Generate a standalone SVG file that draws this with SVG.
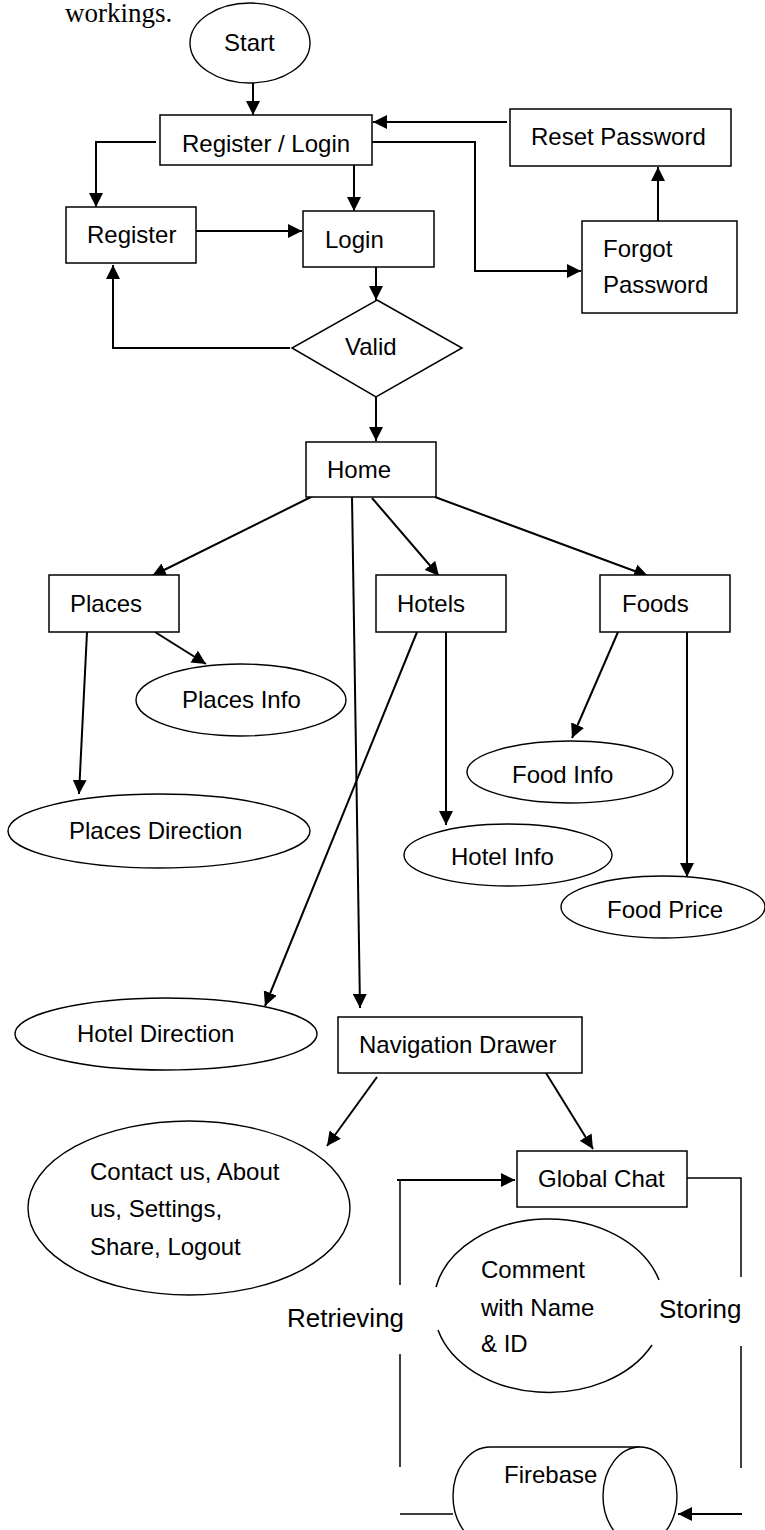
<svg xmlns="http://www.w3.org/2000/svg" width="765" height="1530" viewBox="0 0 765 1530">
<style>
.t{font-family:"Liberation Sans",Arial,sans-serif;font-size:24px;fill:#000}
.big{font-size:26px}
.serif{font-family:"Liberation Serif","Times New Roman",serif;font-size:27px;fill:#000}
.box{fill:#fff;stroke:#000;stroke-width:1.5}
.ell{fill:#fff;stroke:#000;stroke-width:1.4}
.c{fill:none;stroke:#000;stroke-width:2}
.thin{fill:none;stroke:#000;stroke-width:1.5}
</style>
<defs>
<marker id="ah" markerUnits="userSpaceOnUse" markerWidth="14" markerHeight="14" viewBox="0 0 10 10" refX="10" refY="5" orient="auto">
<path d="M0,0 L10,5 L0,10 z" fill="#000"/>
</marker>
</defs>
<rect width="765" height="1530" fill="#fff"/>
<text class="serif" x="65" y="22">workings.</text>
<g id="connectors">
<path class="c" d="M253 83 V115" marker-end="url(#ah)"/>
<path class="c" d="M156 142 H96 V207" marker-end="url(#ah)"/>
<path class="c" d="M354 165 V211" marker-end="url(#ah)"/>
<path class="c" d="M193 231 H302" marker-end="url(#ah)"/>
<path class="c" d="M376 263 V300" marker-end="url(#ah)"/>
<path class="c" d="M290 348 H113 V265" marker-end="url(#ah)"/>
<path class="c" d="M376 397 V441" marker-end="url(#ah)"/>
<path class="c" d="M370 142 H475 V271 H581" marker-end="url(#ah)"/>
<path class="c" d="M658 221 V167" marker-end="url(#ah)"/>
<path class="c" d="M507 122 H373" marker-end="url(#ah)"/>
<path class="c" d="M315 495 L152 576" marker-end="url(#ah)"/>
<path class="c" d="M372 498 L439 576" marker-end="url(#ah)"/>
<path class="c" d="M435 497 L648 576" marker-end="url(#ah)"/>
<path class="c" d="M352 497 L360 1008" marker-end="url(#ah)"/>
<path class="c" d="M155 632 L206 664" marker-end="url(#ah)"/>
<path class="c" d="M87 632 L79 794" marker-end="url(#ah)"/>
<path class="c" d="M417 632 L265 1006" marker-end="url(#ah)"/>
<path class="c" d="M446 632 V825" marker-end="url(#ah)"/>
<path class="c" d="M618 632 L572 738" marker-end="url(#ah)"/>
<path class="c" d="M687 632 V877" marker-end="url(#ah)"/>
<path class="c" d="M377 1077 L327 1146" marker-end="url(#ah)"/>
<path class="c" d="M546 1073 L593 1149" marker-end="url(#ah)"/>
<path class="c" d="M397 1180 H515" marker-end="url(#ah)"/>
<path class="thin" d="M400 1180 V1285 M400 1354 V1467 M400 1514 H453"/>
<path class="thin" d="M687 1178 H741 V1277 M741 1346 V1468"/>
<path class="c" d="M742 1514 H678" marker-end="url(#ah)"/>
</g>
<g id="start"><ellipse class="ell" cx="250" cy="43" rx="60" ry="40"/><text class="t" x="224" y="51">Start</text></g>
<g id="register-login"><rect class="box" x="160" y="115" width="212" height="50"/><text class="t" x="182" y="152">Register / Login</text></g>
<g id="reset-password"><rect class="box" x="510" y="109" width="221" height="57"/><text class="t" x="531" y="145">Reset Password</text></g>
<g id="register"><rect class="box" x="66" y="207" width="130" height="56"/><text class="t" x="87" y="243">Register</text></g>
<g id="login"><rect class="box" x="303" y="211" width="131" height="56"/><text class="t" x="325" y="248">Login</text></g>
<g id="forgot-password"><rect class="box" x="582" y="221" width="155" height="92"/><text class="t" x="603" y="257">Forgot</text><text class="t" x="603" y="293">Password</text></g>
<g id="valid"><polygon class="box" points="377,300 462,348 376,397 292,348"/><text class="t" x="345" y="355">Valid</text></g>
<g id="home"><rect class="box" x="306" y="442" width="130" height="55"/><text class="t" x="327" y="478">Home</text></g>
<g id="places"><rect class="box" x="49" y="575" width="130" height="57"/><text class="t" x="70" y="612">Places</text></g>
<g id="hotels"><rect class="box" x="376" y="575" width="130" height="57"/><text class="t" x="397" y="612">Hotels</text></g>
<g id="foods"><rect class="box" x="600" y="575" width="130" height="57"/><text class="t" x="622" y="612">Foods</text></g>
<g id="places-info"><ellipse class="ell" cx="241" cy="700" rx="105" ry="36"/><text class="t" x="182" y="708">Places Info</text></g>
<g id="places-direction"><ellipse class="ell" cx="159" cy="831" rx="151" ry="37"/><text class="t" x="69" y="839">Places Direction</text></g>
<g id="food-info"><ellipse class="ell" cx="570" cy="772" rx="103" ry="31"/><text class="t" x="512" y="783">Food Info</text></g>
<g id="hotel-info"><ellipse class="ell" cx="508" cy="855" rx="104" ry="31"/><text class="t" x="451" y="865">Hotel Info</text></g>
<g id="food-price"><ellipse class="ell" cx="663" cy="907" rx="102" ry="31"/><text class="t" x="607" y="918">Food Price</text></g>
<g id="hotel-direction"><ellipse class="ell" cx="166" cy="1034" rx="151" ry="36"/><text class="t" x="77" y="1042">Hotel Direction</text></g>
<g id="navigation-drawer"><rect class="box" x="338" y="1017" width="244" height="56"/><text class="t" x="359" y="1053">Navigation Drawer</text></g>
<g id="contact"><ellipse class="ell" cx="189" cy="1208" rx="161" ry="87"/><text class="t" x="90" y="1180">Contact us, About</text><text class="t" x="90" y="1217">us, Settings,</text><text class="t" x="90" y="1255">Share, Logout</text></g>
<g id="global-chat"><rect class="box" x="517" y="1151" width="170" height="56"/><text class="t" x="538" y="1187">Global Chat</text></g>
<g id="comment"><path class="thin" d="M436 1287 A115 85 0 0 1 659 1280"/><path class="thin" d="M438 1330 A115 85 0 0 0 652 1345"/><text class="t" x="481" y="1278">Comment</text><text class="t" x="481" y="1316">with Name</text><text class="t" x="481" y="1352">&amp; ID</text></g>
<g id="firebase"><path class="ell" d="M640 1447 H490 A37 49 0 0 0 490 1545 H640"/><ellipse class="ell" cx="640" cy="1496" rx="37" ry="49"/><text class="t" x="504" y="1483">Firebase</text></g>
<g id="labels"><text class="t big" x="287" y="1327">Retrieving</text><text class="t big" x="659" y="1318">Storing</text></g>
</svg>
